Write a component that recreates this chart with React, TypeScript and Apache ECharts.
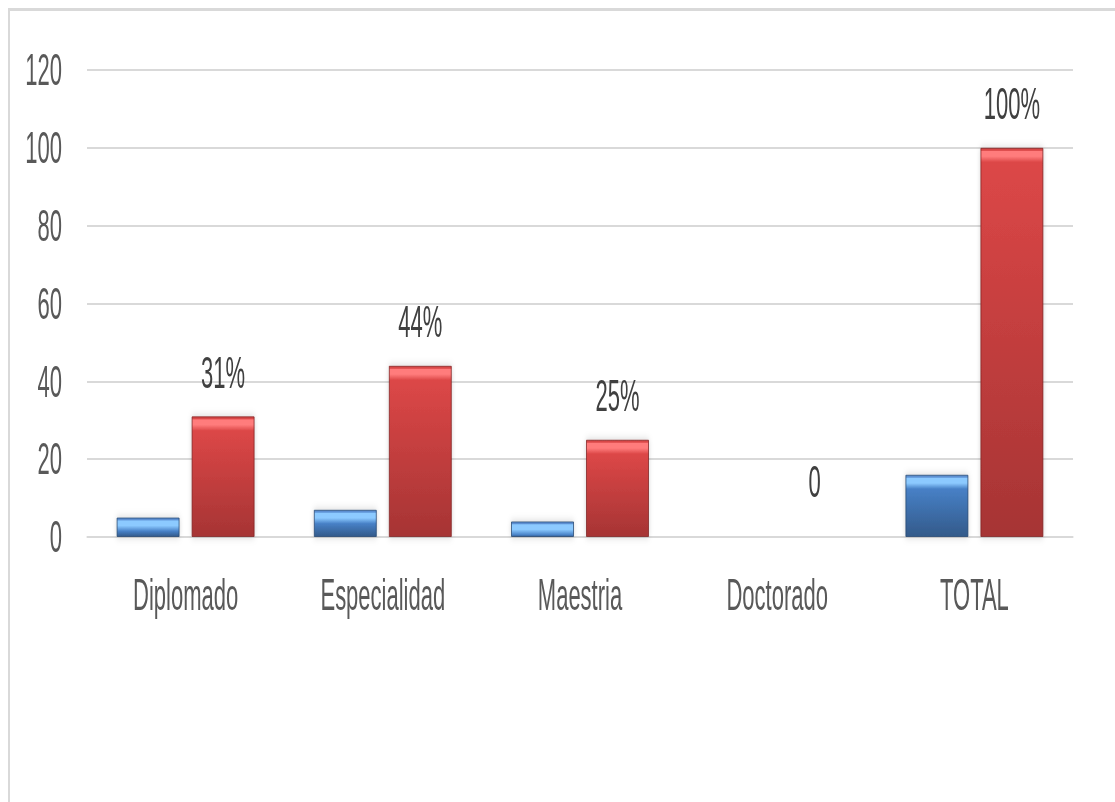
import React, { useEffect, useRef } from "react";
import * as echarts from "echarts";

const categories = ["Diplomado", "Especialidad", "Maestria", "Doctorado", "TOTAL"];
const countValues = [5, 7, 4, 0, 16];
const percentValues = [31, 44, 25, 0, 100];
const percentLabels = ["31%", "44%", "25%", "0", "100%"];
const yMin = 0;
const yMax = 120;
const yInterval = 20;

const SX = 0.5;
const PAGE_W = 1107;
const PAGE_H = 794;
const INNER_W = Math.round((PAGE_W - 2) / SX);
const INNER_H = PAGE_H - 3;
const PX_PER_UNIT = 78 / 20;

function bevel(v: number, edge: string, light: string, top: string, bottom: string) {
  const h = Math.max(v * PX_PER_UNIT, 1);
  const o = (px: number) => Math.min(px / h, 1);
  return new echarts.graphic.LinearGradient(0, 0, 0, 1, [
    { offset: 0, color: edge },
    { offset: o(2), color: edge },
    { offset: o(3), color: light },
    { offset: o(8), color: light },
    { offset: o(14), color: top },
    { offset: 1, color: bottom },
  ]);
}

export default function App() {
  const ref = useRef<HTMLDivElement>(null);

  useEffect(() => {
    if (!ref.current) return;
    const chart = echarts.init(ref.current, null, { renderer: "svg" });
    const font = "Liberation Sans";
    chart.setOption({
      animation: false,
      backgroundColor: "#ffffff",
      grid: { left: 154, right: 84, top: 59, bottom: 265, containLabel: false },
      xAxis: {
        type: "category",
        data: categories,
        axisLine: { show: true, lineStyle: { color: "#d9d9d9", width: 2 } },
        axisTick: { show: false },
        axisLabel: { color: "#595959", fontSize: 44, fontFamily: font, margin: 36 },
      },
      yAxis: {
        type: "value",
        min: yMin,
        max: yMax,
        interval: yInterval,
        axisLine: { show: false },
        axisTick: { show: false },
        splitLine: { lineStyle: { color: "#d9d9d9", width: 2 } },
        axisLabel: { color: "#595959", fontSize: 44, fontFamily: font, margin: 50 },
      },
      series: [
        {
          name: "Cantidad",
          type: "bar",
          barWidth: 125,
          barGap: "20%",
          data: countValues.map((v) => ({
            value: v,
            itemStyle: { color: bevel(v, "#5b8fd2", "#8ccaff", "#4780c6", "#335a8a") },
          })),
          itemStyle: {
            borderColor: "#24466f",
            borderWidth: 1,
            shadowBlur: 8,
            shadowColor: "rgba(0,0,0,0.18)",
          },
        },
        {
          name: "Porcentaje",
          type: "bar",
          barWidth: 125,
          data: percentValues.map((v) => ({
            value: v,
            itemStyle: { color: bevel(v, "#d84646", "#ff7c7c", "#dc4747", "#a63434") },
            label: v === 0 ? { distance: 33 } : undefined,
          })),
          itemStyle: {
            borderColor: "#7e2222",
            borderWidth: 1,
            shadowBlur: 8,
            shadowColor: "rgba(0,0,0,0.18)",
          },
          label: {
            show: true,
            position: "top",
            distance: 22,
            color: "#404040",
            fontSize: 44,
            fontFamily: font,
            formatter: (p: any) => percentLabels[p.dataIndex],
          },
        },
      ],
    });
    return () => chart.dispose();
  }, []);

  return (
    <div
      style={{
        position: "fixed",
        left: 8,
        top: 8,
        width: PAGE_W,
        height: PAGE_H,
        overflow: "hidden",
        borderTop: "3px solid #d9d9d9",
        borderLeft: "2px solid #d9d9d9",
        boxSizing: "border-box",
        background: "#fff",
      }}
    >
      <div
        ref={ref}
        style={{
          position: "absolute",
          left: 0,
          top: 0,
          width: INNER_W,
          height: INNER_H,
          transform: `scaleX(${SX})`,
          transformOrigin: "0 0",
        }}
      />
    </div>
  );
}
